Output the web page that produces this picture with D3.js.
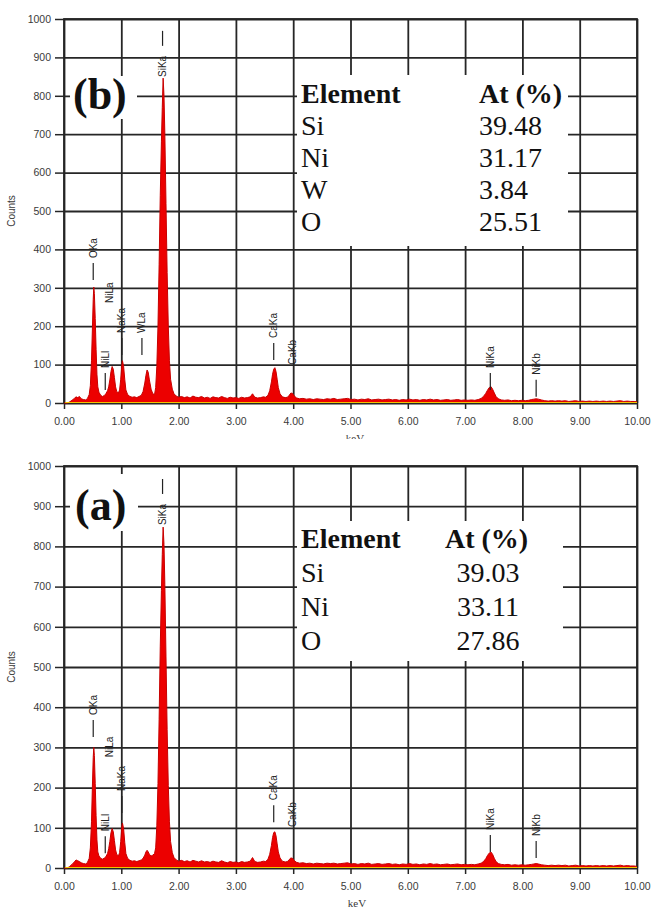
<!DOCTYPE html>
<html>
<head>
<meta charset="utf-8">
<script src="https://cdn.jsdelivr.net/npm/d3@7"></script>
<style>
  html, body { margin: 0; padding: 0; background: #fff; }
  svg { display: block; }
</style>
</head>
<body>
<script>
// ---- data -------------------------------------------------------------
const xTickValues = [0, 1, 2, 3, 4, 5, 6, 7, 8, 9, 10];
const yTickValues = [0, 100, 200, 300, 400, 500, 600, 700, 800, 900, 1000];

// EDS spectrum (b): [energy keV, counts]
const spectrumB = [
  [0.00,0],[0.06,0],[0.10,3],[0.14,7],[0.18,12],[0.21,16],[0.24,14],[0.27,17],[0.30,11],[0.34,9],
  [0.38,8],[0.41,12],[0.44,22],[0.46,45],[0.48,110],[0.495,190],[0.51,270],[0.52,302],[0.53,285],[0.545,220],
  [0.56,140],[0.575,75],[0.59,42],[0.61,28],[0.64,20],[0.67,17],[0.70,19],[0.73,24],[0.76,32],[0.78,42],
  [0.80,60],[0.82,82],[0.84,95],[0.86,88],[0.88,66],[0.90,42],[0.92,30],[0.95,26],[0.97,34],[0.99,62],
  [1.01,100],[1.02,110],[1.04,96],[1.06,62],[1.08,34],[1.11,22],[1.15,17],[1.19,15],[1.23,16],[1.27,14],
  [1.31,17],[1.35,20],[1.38,30],[1.41,52],[1.43,72],[1.45,86],[1.47,80],[1.49,60],[1.52,36],[1.55,24],
  [1.58,22],[1.60,40],[1.62,95],[1.64,200],[1.66,360],[1.68,540],[1.70,680],[1.715,770],[1.73,846],[1.745,800],
  [1.76,700],[1.78,520],[1.80,340],[1.82,200],[1.84,110],[1.86,62],[1.89,36],[1.92,24],[1.96,18],[2.00,15],
  [2.05,17],[2.10,14],[2.15,16],[2.20,13],[2.25,18],[2.30,15],[2.35,14],[2.40,17],[2.45,13],[2.50,15],
  [2.55,12],[2.60,16],[2.65,14],[2.70,13],[2.75,17],[2.80,14],[2.85,12],[2.90,15],[2.95,13],[3.00,14],
  [3.05,12],[3.10,15],[3.15,13],[3.20,14],[3.25,16],[3.29,24],[3.33,15],[3.38,13],[3.43,14],[3.48,16],
  [3.52,15],[3.56,20],[3.59,32],[3.62,55],[3.64,75],[3.66,88],[3.68,92],[3.70,82],[3.72,62],[3.74,40],
  [3.77,24],[3.81,16],[3.86,14],[3.90,15],[3.93,20],[3.96,26],[3.99,25],[4.02,18],[4.06,13],[4.11,11],
  [4.17,12],[4.23,10],[4.29,11],[4.35,9],[4.41,11],[4.47,10],[4.53,9],[4.59,11],[4.65,10],[4.71,12],
  [4.77,9],[4.83,10],[4.89,11],[4.95,12],[5.01,9],[5.07,10],[5.13,8],[5.19,10],[5.25,9],[5.31,11],
  [5.37,8],[5.43,9],[5.49,10],[5.55,8],[5.61,9],[5.67,10],[5.73,8],[5.79,9],[5.85,7],[5.91,9],
  [5.97,8],[6.03,10],[6.09,8],[6.15,9],[6.21,7],[6.27,9],[6.33,8],[6.39,10],[6.45,8],[6.51,9],
  [6.57,7],[6.63,8],[6.69,9],[6.75,7],[6.81,8],[6.87,9],[6.93,7],[6.99,8],[7.05,7],[7.11,8],
  [7.17,7],[7.23,9],[7.28,12],[7.32,17],[7.36,25],[7.39,33],[7.42,40],[7.45,43],[7.48,36],[7.51,26],
  [7.54,17],[7.58,11],[7.63,8],[7.69,7],[7.75,8],[7.81,6],[7.87,7],[7.93,6],[7.99,7],[8.05,6],
  [8.11,7],[8.16,9],[8.20,10],[8.24,11],[8.28,10],[8.33,8],[8.39,6],[8.45,5],[8.51,6],[8.57,5],
  [8.63,6],[8.69,5],[8.75,6],[8.81,4],[8.87,5],[8.93,6],[8.99,4],[9.05,5],[9.11,4],[9.17,5],
  [9.23,4],[9.29,5],[9.35,4],[9.41,5],[9.47,4],[9.53,5],[9.59,4],[9.65,5],[9.71,6],[9.77,4],
  [9.83,5],[9.89,4],[9.95,4],[10.00,3]
];

// EDS spectrum (a): [energy keV, counts]
const spectrumA = [
  [0.00,0],[0.06,0],[0.10,4],[0.14,9],[0.18,15],[0.21,20],[0.24,18],[0.27,16],[0.30,13],[0.34,11],
  [0.38,10],[0.41,14],[0.44,24],[0.46,50],[0.48,115],[0.495,200],[0.51,275],[0.52,300],[0.53,280],[0.545,210],
  [0.56,130],[0.575,70],[0.59,40],[0.61,30],[0.64,24],[0.67,22],[0.70,24],[0.73,28],[0.76,36],[0.78,48],
  [0.80,66],[0.82,88],[0.84,98],[0.86,90],[0.88,68],[0.90,45],[0.92,34],[0.95,30],[0.97,38],[0.99,66],
  [1.01,104],[1.02,112],[1.04,98],[1.06,64],[1.08,36],[1.11,24],[1.15,19],[1.19,17],[1.23,18],[1.27,16],
  [1.31,18],[1.35,20],[1.38,24],[1.41,32],[1.43,40],[1.45,44],[1.47,40],[1.49,34],[1.52,30],[1.55,32],
  [1.58,36],[1.60,50],[1.62,105],[1.64,210],[1.66,370],[1.68,550],[1.70,690],[1.715,780],[1.73,848],[1.745,805],
  [1.76,705],[1.78,525],[1.80,345],[1.82,205],[1.84,115],[1.86,66],[1.89,38],[1.92,26],[1.96,20],[2.00,17],
  [2.05,19],[2.10,16],[2.15,18],[2.20,15],[2.25,19],[2.30,17],[2.35,15],[2.40,18],[2.45,15],[2.50,16],
  [2.55,14],[2.60,17],[2.65,15],[2.70,14],[2.75,18],[2.80,15],[2.85,13],[2.90,16],[2.95,14],[3.00,15],
  [3.05,13],[3.10,16],[3.15,14],[3.20,15],[3.25,17],[3.29,26],[3.33,16],[3.38,14],[3.43,15],[3.48,17],
  [3.52,16],[3.56,22],[3.59,34],[3.62,56],[3.64,76],[3.66,88],[3.68,90],[3.70,80],[3.72,60],[3.74,40],
  [3.77,25],[3.81,17],[3.86,15],[3.90,16],[3.93,21],[3.96,25],[3.99,24],[4.02,18],[4.06,14],[4.11,12],
  [4.17,13],[4.23,11],[4.29,12],[4.35,10],[4.41,12],[4.47,11],[4.53,10],[4.59,12],[4.65,11],[4.71,12],
  [4.77,10],[4.83,11],[4.89,12],[4.95,13],[5.01,10],[5.07,11],[5.13,9],[5.19,11],[5.25,10],[5.31,12],
  [5.37,9],[5.43,10],[5.49,11],[5.55,9],[5.61,10],[5.67,11],[5.73,9],[5.79,10],[5.85,8],[5.91,10],
  [5.97,9],[6.03,11],[6.09,9],[6.15,10],[6.21,8],[6.27,10],[6.33,9],[6.39,11],[6.45,9],[6.51,10],
  [6.57,8],[6.63,9],[6.69,10],[6.75,8],[6.81,9],[6.87,10],[6.93,8],[6.99,9],[7.05,8],[7.11,9],
  [7.17,8],[7.23,10],[7.28,12],[7.32,16],[7.36,23],[7.39,31],[7.42,37],[7.45,40],[7.48,34],[7.51,24],
  [7.54,16],[7.58,11],[7.63,9],[7.69,8],[7.75,9],[7.81,7],[7.87,8],[7.93,7],[7.99,8],[8.05,7],
  [8.11,8],[8.16,9],[8.20,10],[8.24,11],[8.28,10],[8.33,8],[8.39,7],[8.45,6],[8.51,7],[8.57,6],
  [8.63,7],[8.69,6],[8.75,7],[8.81,5],[8.87,6],[8.93,7],[8.99,5],[9.05,6],[9.11,5],[9.17,6],
  [9.23,5],[9.29,6],[9.35,5],[9.41,6],[9.47,5],[9.53,6],[9.59,5],[9.65,6],[9.71,7],[9.77,5],
  [9.83,6],[9.89,5],[9.95,5],[10.00,4]
];

// peak markers: name, energy, count level where the marker starts, marker style
const peakLabelsB = [
  { name: "OKa",  keV: 0.51, level: 320, mark: "below" },
  { name: "NiLl", keV: 0.72, level: 34,  mark: "below" },
  { name: "NiLa", keV: 0.80, level: 203, mark: "none"  },
  { name: "NaKa", keV: 1.01, level: 125, mark: "below" },
  { name: "WLa",  keV: 1.36, level: 125, mark: "below" },
  { name: "SiKa", keV: 1.72, level: 849, mark: "above" },
  { name: "CaKa", keV: 3.66, level: 112, mark: "below" },
  { name: "CaKb", keV: 3.98, level: 42,  mark: "none"  },
  { name: "NiKa", keV: 7.44, level: 34,  mark: "below" },
  { name: "NiKb", keV: 8.24, level: 16,  mark: "below" }
];
const peakLabelsA = [
  { name: "OKa",  keV: 0.51, level: 326, mark: "below" },
  { name: "NiLl", keV: 0.72, level: 37,  mark: "below" },
  { name: "NiLa", keV: 0.80, level: 221, mark: "none"  },
  { name: "NaKa", keV: 1.01, level: 137, mark: "below" },
  { name: "SiKa", keV: 1.72, level: 853, mark: "above" },
  { name: "CaKa", keV: 3.66, level: 114, mark: "below" },
  { name: "CaKb", keV: 3.98, level: 47,  mark: "none"  },
  { name: "NiKa", keV: 7.44, level: 40,  mark: "below" },
  { name: "NiKb", keV: 8.24, level: 25,  mark: "below" }
];

const tableHeader = ["Element", "At (%)"];
const elementsB = ["Si", "Ni", "W", "O"];
const atPercentB = ["39.48", "31.17", "3.84", "25.51"];
const elementsA = ["Si", "Ni", "O"];
const atPercentA = ["39.03", "33.11", "27.86"];

// ---- drawing ----------------------------------------------------------
const W = 652, H = 909;
const svg = d3.select("body").append("svg")
  .attr("width", W).attr("height", H)
  .style("background", "#fff");

const GRID = "#262626";
const SANS = "'Liberation Sans', Arial, sans-serif";
const SERIF = "'Liberation Serif', 'Times New Roman', serif";

function drawPanel(p) {
  const g = svg.append("g");
  const x = d3.scaleLinear().domain([0, 10]).range([p.left, p.right]);
  const y = d3.scaleLinear().domain([0, 1000]).range([p.bottom, p.top]);
  const w = p.right - p.left, h = p.bottom - p.top;

  // grid
  const gx = g.append("g").attr("transform", `translate(0,${p.bottom})`)
    .call(d3.axisBottom(x).tickValues(xTickValues).tickSize(-h).tickFormat(""));
  const gy = g.append("g").attr("transform", `translate(${p.left},0)`)
    .call(d3.axisLeft(y).tickValues(yTickValues).tickSize(-w).tickFormat(""));
  [gx, gy].forEach(a => {
    a.select(".domain").remove();
    a.selectAll("line").attr("stroke", GRID).attr("stroke-width", 1.8);
  });

  // outer ticks + labels
  const ax = g.append("g").attr("transform", `translate(0,${p.bottom})`)
    .call(d3.axisBottom(x).tickValues(xTickValues).tickSize(6).tickPadding(9)
      .tickFormat(d3.format(".2f")));
  const ay = g.append("g").attr("transform", `translate(${p.left},0)`)
    .call(d3.axisLeft(y).tickValues(yTickValues).tickSize(9).tickPadding(4)
      .tickFormat(d3.format("d")));
  [ax, ay].forEach(a => {
    a.select(".domain").remove();
    a.selectAll("line").attr("stroke", GRID).attr("stroke-width", 1.5);
    a.selectAll("text").attr("fill", "#3a3a3a")
      .style("font-family", SANS).style("font-size", "10.5px");
  });

  // frame
  g.append("rect").attr("x", p.left).attr("y", p.top).attr("width", w).attr("height", h)
    .attr("fill", "none").attr("stroke", GRID).attr("stroke-width", 1.8);

  // white panels behind the table and the panel letter
  g.append("rect").attr("x", p.table.x0).attr("y", p.table.y0)
    .attr("width", p.table.x1 - p.table.x0).attr("height", p.table.y1 - p.table.y0)
    .attr("fill", "#fff");
  g.append("rect").attr("x", p.letterBox.x0).attr("y", p.letterBox.y0)
    .attr("width", p.letterBox.x1 - p.letterBox.x0).attr("height", p.letterBox.y1 - p.letterBox.y0)
    .attr("fill", "#fff");

  // spectrum
  const area = d3.area().x(d => x(d[0])).y0(y(0)).y1(d => y(d[1]));
  const line = d3.line().x(d => x(d[0])).y(d => y(d[1]));
  g.append("path").datum(p.spectrum).attr("d", area).attr("fill", "#ec0000");
  g.append("path").datum(p.spectrum).attr("d", line)
    .attr("fill", "none").attr("stroke", "#c80000").attr("stroke-width", 1);
  g.append("line").attr("x1", x(0.02)).attr("x2", x(10)).attr("y1", y(0) - 0.5).attr("y2", y(0) - 0.5)
    .attr("stroke", "#f2c200").attr("stroke-width", 1.2);

  // peak markers
  const tickLen = 17, gap = 5;
  p.labels.forEach(l => {
    const px = x(l.keV), py = y(l.level);
    const t = g.append("text")
      .attr("dy", "0.35em")
      .attr("fill", "#222")
      .style("font-family", SANS).style("font-size", "10px")
      .text(l.name);
    if (l.mark === "above") {
      t.attr("transform", `translate(${px},${py}) rotate(-90)`);
      const len = t.node().getComputedTextLength();
      const top = py - len - gap - 5;
      g.append("line").attr("x1", px).attr("x2", px).attr("y1", top).attr("y2", top - tickLen + 2)
        .attr("stroke", "#222").attr("stroke-width", 1.2);
    } else {
      const ty = py - tickLen - gap;
      t.attr("transform", `translate(${px},${ty}) rotate(-90)`);
      if (l.mark === "below") {
        g.append("line").attr("x1", px).attr("x2", px).attr("y1", py).attr("y2", py - tickLen)
          .attr("stroke", "#222").attr("stroke-width", 1.2);
      }
    }
  });

  // panel letter
  g.append("text").attr("x", p.letterAt[0]).attr("y", p.letterAt[1])
    .attr("fill", "#111")
    .style("font-family", SERIF).style("font-size", "44px").style("font-weight", "bold")
    .text(p.letter);

  // composition table
  const t = p.table;
  const txt = (xx, yy, s, bold, anchor) => g.append("text")
    .attr("x", xx).attr("y", yy).attr("fill", "#111")
    .attr("text-anchor", anchor || "start")
    .style("font-family", SERIF).style("font-size", "28px")
    .style("font-weight", bold ? "bold" : "normal")
    .text(s);
  txt(t.col1, t.rows[0], tableHeader[0], true);
  txt(t.col2, t.rows[0], tableHeader[1], true);
  p.elements.forEach((e, i) => {
    txt(t.col1, t.rows[i + 1], e, false);
    txt(t.valX, t.rows[i + 1], p.values[i], false, t.valAnchor);
  });

  // axis titles
  g.append("text")
    .attr("transform", `translate(${p.countsX},${(p.top + p.bottom) / 2}) rotate(-90)`)
    .attr("text-anchor", "middle").attr("fill", "#3a3a3a")
    .style("font-family", SANS).style("font-size", "10px")
    .text("Counts");
  g.append("text").attr("x", p.kevAt[0]).attr("y", p.kevAt[1])
    .attr("text-anchor", "middle").attr("fill", "#3a3a3a")
    .style("font-family", SERIF).style("font-size", "11px")
    .text("keV");
}

// panel (b) on top
drawPanel({
  left: 64, right: 637, top: 19, bottom: 403,
  spectrum: spectrumB, labels: peakLabelsB,
  elements: elementsB, values: atPercentB,
  letter: "(b)", letterAt: [73, 109],
  letterBox: { x0: 70, x1: 137, y0: 76, y1: 119 },
  table: { x0: 297, x1: 568, y0: 75, y1: 246,
           col1: 301, col2: 479, valX: 479, valAnchor: "start",
           rows: [103, 135, 167, 199, 231] },
  countsX: 15, kevAt: [355, 442]
});

// the lower figure sits on its own white sheet, trimming the upper one
svg.append("rect").attr("x", 0).attr("y", 439).attr("width", W).attr("height", H - 439).attr("fill", "#fff");

// panel (a) below
drawPanel({
  left: 64, right: 637, top: 466, bottom: 868,
  spectrum: spectrumA, labels: peakLabelsA,
  elements: elementsA, values: atPercentA,
  letter: "(a)", letterAt: [75, 520],
  letterBox: { x0: 70, x1: 138, y0: 474, y1: 531 },
  table: { x0: 297, x1: 563, y0: 521, y1: 661,
           col1: 301, col2: 445, valX: 488, valAnchor: "middle",
           rows: [548, 582, 616, 650] },
  countsX: 15, kevAt: [357, 907]
});
</script>
</body>
</html>
